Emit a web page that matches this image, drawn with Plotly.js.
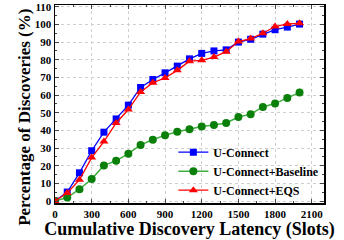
<!DOCTYPE html>
<html>
<head>
<meta charset="utf-8">
<script src="https://cdn.plot.ly/plotly-3.0.1.min.js"></script>
<style>html,body{margin:0;padding:0;background:#fff;}#chart{width:344px;height:240px;}</style>
</head>
<body>
<div id="chart"></div>
<script>
var slots = [0,100,200,300,400,500,600,700,800,900,1000,1100,1200,1300,1400,1500,1600,1700,1800,1900,2000];
var uConnect = [0,5.1,16,28.5,39,46.5,54.3,64.3,68.8,72.6,76.4,80.5,83.6,85,85.6,90,91.6,94.5,97,98.5,100.2];
var uBaseline = [0,2,6.7,12.5,20.2,22.8,26.8,31.8,34.7,37.3,39.2,40.7,42.2,43.1,44.2,47.6,49.2,53.3,55.2,58.4,61.4];
var uEQS = [0,4.6,12,24.6,33.7,44.2,51.8,61.8,67,69.7,74,79.2,79.7,81.5,84.6,90.3,92,95,98.8,100.3,100.6];
var names = ['U-Connect','U-Connect+Baseline','U-Connect+EQS'];
var yTitle = 'Percentage of Discoveries (%)';
var xTitle = 'Cumulative Discovery Latency (Slots)';

var traces = [
  {x: slots, y: uConnect, name: names[0], mode: 'lines+markers',
   line: {color: '#0000ff', width: 1.3}, marker: {symbol: 'square', size: 7, color: '#0000ff'}},
  {x: slots, y: uBaseline, name: names[1], mode: 'lines+markers',
   line: {color: '#3fae3f', width: 1.5}, marker: {symbol: 'circle', size: 8, color: '#0a800a'}},
  {x: slots, y: uEQS, name: names[2], mode: 'lines+markers',
   line: {color: '#ff0000', width: 1.3}, marker: {symbol: 'triangle-up', size: 8, color: '#ff0000'}}
];

var fontFam = '"Liberation Serif", "Times New Roman", serif';
var layout = {
  width: 344, height: 240,
  margin: {l: 55, r: 20, t: 5, b: 37},
  paper_bgcolor: '#fff', plot_bgcolor: '#fff',
  font: {family: fontFam, color: '#000'},
  showlegend: true,
  legend: {x: 0.44, y: 0.33, xanchor: 'left', yanchor: 'top', bgcolor: 'rgba(0,0,0,0)',
    font: {family: fontFam, size: 12, weight: 'bold', color: '#000'}, itemwidth: 30, tracegroupgap: 0},
  xaxis: {
    range: [0, 2200], tick0: 0, dtick: 300, ticks: 'inside', ticklen: 4, tickwidth: 1,
    showline: true, linecolor: '#000', linewidth: 1.5, mirror: 'ticks',
    showgrid: true, gridcolor: '#cfcfcf', griddash: 'dot', gridwidth: 1, zeroline: false,
    tickfont: {family: fontFam, size: 11, weight: 'bold', color: '#000'},
    minor: {dtick: 150, ticks: 'inside', ticklen: 2, showgrid: false},
    title: {text: xTitle, standoff: 0,
      font: {family: fontFam, size: 18, weight: 'bold', color: '#000'}}
  },
  yaxis: {
    range: [-1.1, 111], tick0: 0, dtick: 10,
    ticks: 'inside', ticklen: 4, tickwidth: 1,
    showline: true, linecolor: '#000', linewidth: 1.5, mirror: 'ticks',
    showgrid: true, gridcolor: '#cfcfcf', griddash: 'dot', gridwidth: 1, zeroline: false,
    tickfont: {family: fontFam, size: 11, weight: 'bold', color: '#000'},
    ticklabeloverflow: 'allow',
    minor: {dtick: 5, ticks: 'inside', ticklen: 2, showgrid: false}
  },
  annotations: [{
    text: yTitle, textangle: -90, showarrow: false,
    xref: 'paper', yref: 'paper', x: -0.1115, y: 0.43, xanchor: 'center', yanchor: 'middle',
    font: {family: fontFam, size: 17, weight: 'bold', color: '#000'}
  }]
};
Plotly.newPlot('chart', traces, layout, {displayModeBar: false, staticPlot: true});
</script>
</body>
</html>
